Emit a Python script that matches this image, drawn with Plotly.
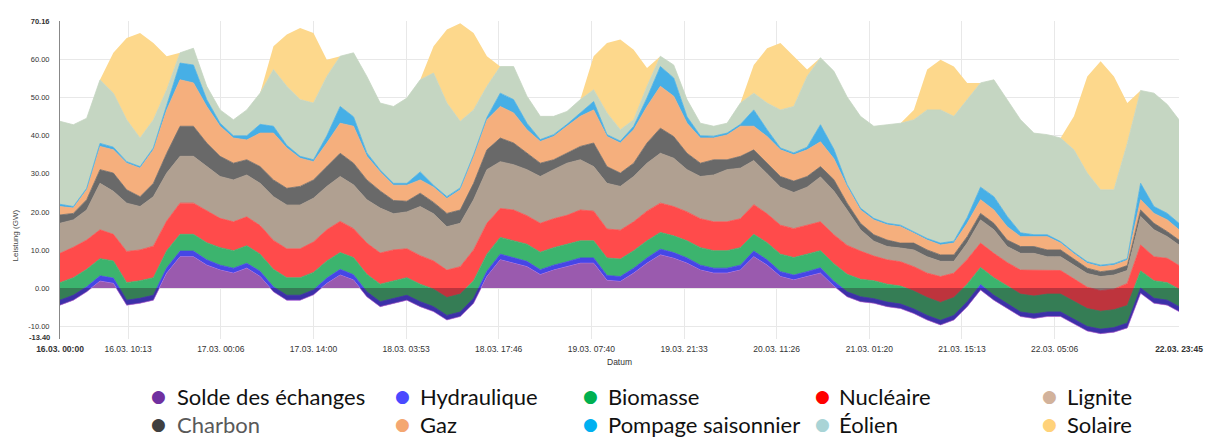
import pandas as pd
import plotly.graph_objects as go

# time axis: 2-hourly readings, last point 22.03 23:45
times = list(pd.date_range("2020-03-16 00:00", periods=84, freq="2h")) + [pd.Timestamp("2020-03-22 23:45")]

# values in GW (stack order bottom -> top)
solde = [-4.5, -3.2, -1.0, 1.8, 1.2, -4.5, -4.0, -3.2, 3.9, 8.2,
         8.2, 6.0, 4.7, 3.9, 5.2, 3.0, -1.0, -3.2, -3.2, -1.8,
         1.2, 3.4, 2.1, -2.3, -4.9, -4.0, -3.2, -4.9, -6.2, -8.4,
         -7.5, -4.0, 3.0, 7.4, 6.5, 5.6, 3.5, 4.7, 5.6, 6.5,
         6.5, 2.0, 1.7, 3.9, 6.5, 8.7, 7.8, 6.5, 4.7, 3.9,
         3.9, 4.7, 8.2, 6.0, 3.0, 2.1, 3.0, 3.9, 0.5, -2.3,
         -3.6, -4.0, -4.9, -5.4, -6.7, -8.4, -9.7, -8.4, -4.9, -0.5,
         -3.2, -5.4, -7.5, -8.0, -7.5, -7.5, -9.5, -11.3, -12.0, -11.6,
         -10.5, -1.4, -4.0, -4.5, -6.2]
hydraulique = [1.3, 1.3, 1.3, 1.4, 1.4, 1.3, 1.3, 1.3, 1.4, 1.5,
               1.5, 1.4, 1.3, 1.3, 1.3, 1.4, 1.3, 1.3, 1.3, 1.3,
               1.4, 1.5, 1.4, 1.3, 1.3, 1.3, 1.3, 1.3, 1.3, 1.2,
               1.2, 1.3, 1.4, 1.5, 1.5, 1.4, 1.3, 1.3, 1.3, 1.4,
               1.4, 1.3, 1.3, 1.3, 1.4, 1.5, 1.5, 1.4, 1.3, 1.3,
               1.3, 1.3, 1.5, 1.4, 1.3, 1.3, 1.3, 1.4, 1.3, 1.3,
               1.3, 1.2, 1.2, 1.2, 1.2, 1.2, 1.2, 1.2, 1.3, 1.4,
               1.3, 1.3, 1.2, 1.2, 1.2, 1.2, 1.2, 1.2, 1.2, 1.2,
               1.3, 1.4, 1.3, 1.3, 1.3]
biomasse = [4.6, 4.6, 4.6, 4.5, 4.5, 4.6, 4.6, 4.6, 4.5, 4.4,
            4.4, 4.5, 4.6, 4.6, 4.6, 4.5, 4.6, 4.6, 4.6, 4.6,
            4.5, 4.4, 4.5, 4.6, 4.6, 4.6, 4.6, 4.6, 4.6, 4.7,
            4.7, 4.6, 4.5, 4.4, 4.4, 4.5, 4.6, 4.6, 4.6, 4.5,
            4.5, 4.6, 4.6, 4.6, 4.5, 4.4, 4.4, 4.5, 4.6, 4.6,
            4.6, 4.6, 4.4, 4.5, 4.6, 4.6, 4.6, 4.5, 4.6, 4.6,
            4.6, 4.7, 4.7, 4.7, 4.7, 4.7, 4.7, 4.7, 4.6, 4.5,
            4.6, 4.6, 4.7, 4.7, 4.7, 4.7, 4.7, 4.7, 4.7, 4.7,
            4.6, 4.5, 4.6, 4.6, 4.6]
nucleaire = [7.7, 8.0, 7.7, 7.6, 7.0, 8.2, 8.1, 8.3, 7.8, 8.2,
             8.2, 8.3, 7.7, 7.6, 7.6, 7.5, 7.6, 7.6, 7.6, 8.0,
             8.2, 8.2, 7.6, 8.2, 8.2, 8.1, 7.6, 7.5, 7.4, 7.2,
             7.2, 8.1, 8.1, 7.6, 8.1, 7.5, 7.6, 7.6, 7.6, 8.1,
             7.8, 7.6, 7.6, 7.6, 7.8, 7.7, 7.7, 7.6, 7.6, 7.6,
             7.6, 7.6, 7.8, 7.6, 7.6, 7.6, 7.6, 7.6, 7.6, 7.6,
             7.4, 6.5, 6.4, 6.4, 6.4, 6.4, 6.8, 6.4, 6.5, 6.4,
             6.4, 6.2, 6.3, 6.8, 6.2, 6.2, 6.0, 5.6, 5.4, 5.4,
             5.8, 6.8, 6.3, 6.4, 6.2]
lignite = [7.9, 7.2, 7.9, 12.2, 11.3, 12.7, 11.4, 13.0, 12.6, 12.3,
           12.3, 11.7, 11.0, 11.0, 11.0, 11.1, 11.5, 11.5, 11.5, 11.5,
           11.4, 11.8, 11.5, 11.4, 11.8, 9.5, 9.7, 12.9, 12.4, 11.4,
           11.4, 13.2, 14.1, 12.3, 11.9, 12.1, 12.3, 12.9, 13.7, 13.2,
           11.7, 12.0, 11.5, 11.9, 12.6, 13.1, 12.7, 11.1, 11.1, 12.3,
           13.7, 13.3, 11.6, 10.5, 10.0, 9.5, 10.0, 11.8, 11.5, 9.3,
           5.6, 3.9, 3.5, 3.6, 4.4, 4.3, 4.0, 3.1, 4.3, 6.1,
           6.2, 4.2, 4.4, 4.4, 3.6, 3.6, 3.6, 3.6, 3.7, 3.7,
           3.4, 7.5, 7.1, 5.7, 5.4]
charbon = [2.2, 1.7, 2.7, 3.6, 4.8, 3.5, 2.6, 3.5, 5.2, 7.9,
           7.9, 6.2, 5.3, 4.4, 4.0, 4.4, 4.4, 4.4, 4.9, 4.8,
           5.2, 6.1, 5.7, 5.2, 4.5, 3.5, 2.8, 3.5, 3.0, 3.5,
           3.5, 4.3, 5.2, 6.2, 5.7, 4.3, 3.5, 2.6, 2.6, 3.5,
           6.2, 4.4, 3.5, 3.5, 5.3, 6.6, 5.7, 4.3, 3.5, 4.0,
           2.6, 3.1, 2.8, 2.8, 2.8, 3.0, 2.8, 2.7, 3.0, 1.8,
           1.7, 1.7, 1.7, 1.3, 1.8, 1.8, 1.7, 1.7, 1.7, 1.7,
           1.7, 1.7, 1.8, 1.8, 1.8, 1.8, 1.5, 1.4, 1.3, 1.3,
           1.3, 1.7, 1.7, 1.3, 1.3]
gaz = [2.2, 1.4, 2.6, 6.1, 6.1, 7.0, 7.5, 8.8, 11.4, 12.2,
       11.4, 9.6, 7.9, 6.6, 5.2, 8.8, 12.3, 10.6, 7.4, 4.8,
       6.2, 7.9, 9.7, 6.2, 5.0, 4.0, 4.2, 3.5, 4.0, 3.9,
       5.3, 7.1, 7.9, 8.3, 7.9, 6.2, 5.7, 6.1, 7.1, 7.9,
       8.7, 7.9, 7.9, 8.8, 9.6, 11.0, 10.6, 7.9, 6.6, 5.7,
       6.5, 7.9, 6.2, 7.0, 7.0, 6.9, 7.0, 6.5, 5.5, 4.4,
       3.5, 3.9, 4.0, 4.3, 2.6, 2.6, 2.6, 3.1, 3.5, 3.6,
       3.5, 3.5, 2.6, 2.6, 3.5, 1.8, 1.5, 1.3, 1.3, 1.3,
       1.4, 2.7, 2.6, 3.1, 2.7]
pompage = [0.6, 0.4, 0.4, 0.8, 0.7, 0.4, 0.4, 0.5, 1.2, 4.4,
           4.7, 1.8, 0.8, 0.6, 1.1, 2.3, 1.8, 0.7, 0.5, 0.5,
           1.9, 4.4, 2.5, 0.9, 0.5, 0.5, 0.5, 2.1, 0.5, 0.5,
           0.5, 0.4, 0.6, 3.5, 3.5, 1.7, 0.5, 0.5, 0.5, 0.9,
           2.2, 0.5, 0.5, 0.9, 2.3, 5.2, 4.8, 1.7, 0.6, 0.5,
           0.5, 0.5, 4.3, 1.8, 0.5, 0.5, 0.7, 4.5, 2.5, 0.5,
           0.5, 0.4, 0.4, 0.4, 0.4, 0.4, 0.5, 0.5, 1.5, 3.3,
           3.5, 2.7, 1.0, 0.5, 0.5, 0.4, 0.4, 0.4, 0.4, 0.4,
           0.4, 4.3, 1.8, 1.7, 1.7]
eolien = [21.8, 21.5, 18.4, 16.7, 14.2, 11.0, 7.5, 7.4, 4.1, 2.7,
          4.4, 3.5, 3.5, 4.2, 6.8, 8.2, 14.9, 15.5, 14.9, 14.9,
          15.6, 13.2, 16.8, 20.1, 17.6, 20.2, 22.4, 24.2, 29.5, 24.6,
          17.5, 11.8, 8.2, 7.0, 8.7, 7.1, 6.1, 4.8, 3.4, 3.5,
          3.1, 5.7, 3.0, 1.7, 3.0, 2.7, 3.4, 4.5, 3.3, 2.6,
          2.6, 5.6, 4.4, 7.0, 10.0, 12.2, 18.6, 17.6, 20.5, 23.0,
          24.1, 24.2, 25.9, 26.8, 29.4, 33.8, 35.0, 32.8, 31.0, 27.4,
          30.7, 30.7, 29.7, 26.7, 26.3, 27.2, 26.9, 23.3, 19.8, 19.4,
          30.3, 24.4, 29.8, 28.6, 27.2]
solaire = [0, 0, 0, 0, 10.6, 21.5, 27.6, 20.2, 8.8, 0,
           0, 0, 0, 0, 0, 0, 6.1, 13.6, 18.8, 18.4,
           4.4, 0, 0, 0, 0, 0, 0, 0, 7.0, 19.3,
           25.8, 20.2, 7.9, 0, 0, 0, 0, 0, 0, 0,
           8.8, 18.4, 23.7, 18.4, 4.8, 0, 0, 0, 0, 0,
           0, 0, 7.4, 14.4, 17.6, 13.2, 1.8, 0, 0, 0,
           0, 0, 0, 0, 2.6, 10.6, 13.2, 13.1, 4.4, 0,
           0, 0, 0, 0, 0, 0, 8.8, 25.4, 33.8, 29.8,
           10.6, 0, 0, 0, 0]

series_names = ["Solde des échanges", "Hydraulique", "Biomasse", "Nucléaire", "Lignite",
                "Charbon", "Gaz", "Pompage saisonnier", "Éolien", "Solaire"]
series_values = [solde, hydraulique, biomasse, nucleaire, lignite,
                 charbon, gaz, pompage, eolien, solaire]
for v in series_values:
    assert len(v) == len(times), len(v)

area_colors = ["#cc81ed", "#4646e6", "#3cb46e", "#ff4b4b", "#b0a091",
               "#696969", "#f5af7d", "#46afe6", "#c5d6c2", "#fdd88c"]
legend_colors = ["#7030a0", "#4a4aff", "#00b050", "#ff0000", "#d2b29b",
                 "#404040", "#f4a772", "#00b0f0", "#a9d4d6", "#ffd27a"]

tick_times = ["2020-03-16 00:00", "2020-03-16 10:13", "2020-03-17 00:06", "2020-03-17 14:00",
              "2020-03-18 03:53", "2020-03-18 17:46", "2020-03-19 07:40", "2020-03-19 21:33",
              "2020-03-20 11:26", "2020-03-21 01:20", "2020-03-21 15:13", "2020-03-22 05:06",
              "2020-03-22 23:45"]
tick_labels = ["<b>16.03. 00:00</b>", "16.03. 10:13", "17.03. 00:06", "17.03. 14:00",
               "18.03. 03:53", "18.03. 17:46", "19.03. 07:40", "19.03. 21:33",
               "20.03. 11:26", "21.03. 01:20", "21.03. 15:13", "22.03. 05:06",
               "<b>22.03. 23:45</b>"]
y_min, y_max = -13.4, 70.16
y_ticks = [-10, 0, 10, 20, 30, 40, 50, 60, 70.16]
y_labels = ["-10.00", "0.00", "10.00", "20.00", "30.00", "40.00",
            "50.00", "60.00", "<b>70.16</b>"]

fig = go.Figure()
for name, vals, col in zip(series_names, series_values, area_colors):
    lw = 0 if name == "Solaire" else 0.8
    fig.add_trace(go.Scatter(
        x=times, y=vals, name=name, mode="lines", stackgroup="mix",
        line=dict(width=lw, color=col), fillcolor=col, showlegend=False,
        hovertemplate=name + ": %{y:.1f} GW<extra></extra>"))

# darker tint of everything below zero (area between 0 and the exchange balance)
fig.add_trace(go.Scatter(
    x=times, y=solde, mode="lines", fill="tozeroy", line=dict(width=0),
    fillcolor="rgba(40,0,30,0.30)", showlegend=False, hoverinfo="skip"))

L, R, T, B = 60, 25, 21, 101
W, H = 1215, 440
pw, ph = W - L - R, H - T - B

def px_x(x):
    return (x - L) / pw

def px_y(y):
    return (H - B - y) / ph

annotations = []
legend_layout = [  # (dot x, text x, row y)
    (159, 176, 396), (406, 422, 396), (596, 611, 396), (830, 845, 396), (1059, 1075, 396),
    (159, 176, 424), (406, 422, 424), (596, 611, 424), (830, 845, 424), (1059, 1075, 424),
]
for (dx, tx, ry), name, col in zip(legend_layout, series_names, legend_colors):
    annotations.append(dict(x=px_x(dx), y=px_y(ry), xref="paper", yref="paper",
                            text="●", showarrow=False, xanchor="center", yanchor="middle",
                            font=dict(family="DejaVu Sans", size=17, color=col)))
    tcol = "#595959" if name == "Charbon" else "#111111"
    annotations.append(dict(x=px_x(tx), y=px_y(ry), xref="paper", yref="paper",
                            text=name, showarrow=False, xanchor="left", yanchor="middle",
                            font=dict(family="Lato", size=22, color=tcol)))

# axis-minimum label, placed just above the first date label
annotations.append(dict(x=px_x(51), y=px_y(337), xref="paper", yref="paper",
                        text="<b>-13.40</b>", showarrow=False, xanchor="right", yanchor="middle",
                        borderpad=0,
                        font=dict(family="Liberation Sans", size=7.5, color="#333")))
annotations.append(dict(x=px_x(15), y=px_y(235), xref="paper", yref="paper",
                        text="Leistung (GW)", textangle=-90, showarrow=False,
                        xanchor="center", yanchor="middle",
                        font=dict(family="Liberation Sans", size=8, color="#444")))
annotations.append(dict(x=0.5, y=px_y(362), xref="paper", yref="paper",
                        text="Datum", showarrow=False, xanchor="center", yanchor="middle",
                        font=dict(family="Liberation Sans", size=8.5, color="#333")))

fig.update_layout(
    width=W, height=H,
    margin=dict(l=L, r=R, t=T, b=B),
    paper_bgcolor="white", plot_bgcolor="white",
    showlegend=False,
    annotations=annotations,
    xaxis=dict(type="date", range=[times[0], times[-1]], tickmode="array",
               tickvals=tick_times, ticktext=tick_labels, showgrid=True,
               gridcolor="#e8e8e8", gridwidth=1, zeroline=False, showline=False,
               ticks="", ticklabelstandoff=3,
               tickfont=dict(family="Liberation Sans", size=8.5, color="#333")),
    yaxis=dict(range=[y_min, y_max], tickmode="array", tickvals=y_ticks, ticktext=y_labels,
               showgrid=True, gridcolor="#e8e8e8", gridwidth=1, zeroline=False,
               showline=True, linecolor="#888", linewidth=1, ticks="",
               ticklabelstandoff=8,
               tickfont=dict(family="Liberation Sans", size=7.5, color="#333")),
)

fig.write_html("out.html",
               config={"displayModeBar": False},
               post_script="document.body.style.margin='0px';document.body.style.overflow='hidden';")
